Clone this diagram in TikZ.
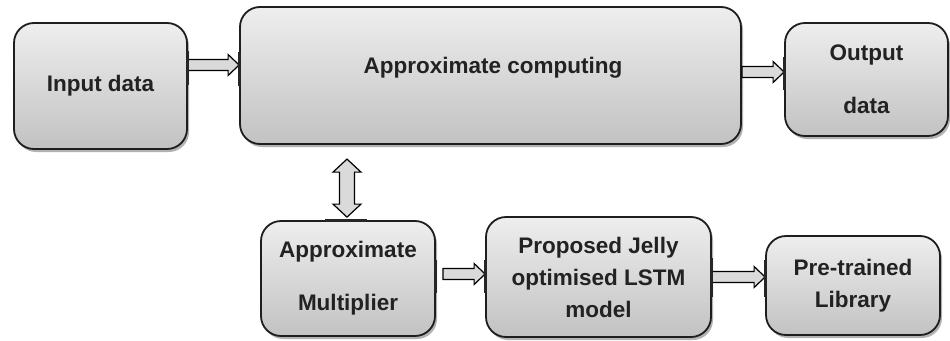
\documentclass[tikz,border=0pt]{standalone}
\usepackage{fontspec}
\setmainfont{Liberation Sans}
\usetikzlibrary{calc,shadows}
\definecolor{boxtop}{RGB}{238,238,238}
\definecolor{boxbot}{RGB}{194,194,194}
\definecolor{edge}{RGB}{30,30,30}
\definecolor{arrowfill}{RGB}{218,218,218}
\definecolor{txt}{RGB}{34,34,34}
\tikzset{
  blk/.style={draw=edge, line width=1.8pt, rounded corners=20pt,
    top color=boxtop, bottom color=boxbot,
    drop shadow={shadow xshift=2pt, shadow yshift=-3pt, opacity=0.3, fill=black},
    inner sep=0pt, align=center, text=txt,
    font=\bfseries\fontsize{22.5}{32}\selectfont},
  lbl/.style={inner sep=0pt, align=center, text=txt,
    font=\bfseries\fontsize{22.5}{32}\selectfont},
  fat/.style={draw=black, line width=1.2pt, fill=arrowfill, line join=miter},
  stub/.style={draw=black!85, line width=3pt},
}
\newcommand\hfat[2]{\draw[fat] ($(#1)+(0,-5.5)$) -- ($(#2)+(-11,-5.5)$) -- ($(#2)+(-11,-10.5)$) -- (#2) -- ($(#2)+(-11,10.5)$) -- ($(#2)+(-11,5.5)$) -- ($(#1)+(0,5.5)$) -- cycle;}
\begin{document}
\begin{tikzpicture}[x=1pt,y=-1pt]
\useasboundingbox[fill=white] (0,0) rectangle (950,340);

% boxes
\node[blk, minimum width=173pt, minimum height=126pt] (input) at (100.5,86) {Input data};
\node[blk, minimum width=501pt, minimum height=137pt] (approx) at (490.5,75.5) {};
\node[lbl] (approxT) at (493,68) {Approximate computing};
\node[blk, minimum width=163pt, minimum height=113pt] (output) at (866.5,79.5) {Output\\[21pt]data};
\node[blk, minimum width=174pt, minimum height=115pt] (mult) at (348,278.5) {Approximate\\[21pt]Multiplier};
\node[blk, minimum width=225pt, minimum height=120pt] (prop) at (598.5,277) {Proposed Jelly\\optimised LSTM\\model};
\node[blk, minimum width=174pt, minimum height=99pt] (pre) at (853,285.5) {Pre-trained\\Library};

% arrow end points
\coordinate (a1s) at ($(input.east)+(0,-21)$);
\coordinate (a1e) at ($(approx.west)+(0,-10.5)$);
\coordinate (a2s) at ($(approx.east)+(0,-3.5)$);
\coordinate (a2e) at ($(output.west)+(0,-7.5)$);
\coordinate (a3s) at ($(mult.east)+(7,-4.5)$);
\coordinate (a3e) at ($(prop.west)+(0,-3)$);
\coordinate (a4s) at ($(prop.east)+(0,0)$);
\coordinate (a4e) at ($(pre.west)+(0,-8.5)$);
\coordinate (v1) at ($(mult.north)+(-1,-61)$);
\coordinate (v2) at ($(mult.north)+(-1,-3)$);

% fat arrows
\hfat{a1s}{a1e}
\hfat{a2s}{a2e}
\hfat{a3s}{a3e}
\hfat{a4s}{a4e}
\draw[fat] (v1) -- ++(14,13) -- ++(-6.5,0) -- ($(v2)+(7.5,-13)$) -- ++(6.5,0) -- (v2)
  -- ++(-14,-13) -- ++(6.5,0) -- ($(v1)+(-7.5,13)$) -- ++(-6.5,0) -- cycle;

% dark attachment marks on borders
\draw[stub] ($(input.east)+(0,-35)$) -- ($(input.east)+(0,-1)$);
\draw[stub] ($(approx.west)+(0,-24)$) -- ($(approx.west)+(0,10)$);
\draw[stub] ($(output.west)+(0,-22.5)$) -- ($(output.west)+(0,10.5)$);
\draw[stub] ($(mult.east)+(0,-18.5)$) -- ($(mult.east)+(0,14.5)$);
\draw[stub] ($(prop.west)+(0,-17)$) -- ($(prop.west)+(0,16)$);
\draw[stub] ($(prop.east)+(0,-19)$) -- ($(prop.east)+(0,20)$);
\draw[stub] ($(pre.west)+(0,-25.5)$) -- ($(pre.west)+(0,11.5)$);
\draw[stub] ($(mult.north)+(-23,0)$) -- ($(mult.north)+(19,0)$);
\end{tikzpicture}
\end{document}
